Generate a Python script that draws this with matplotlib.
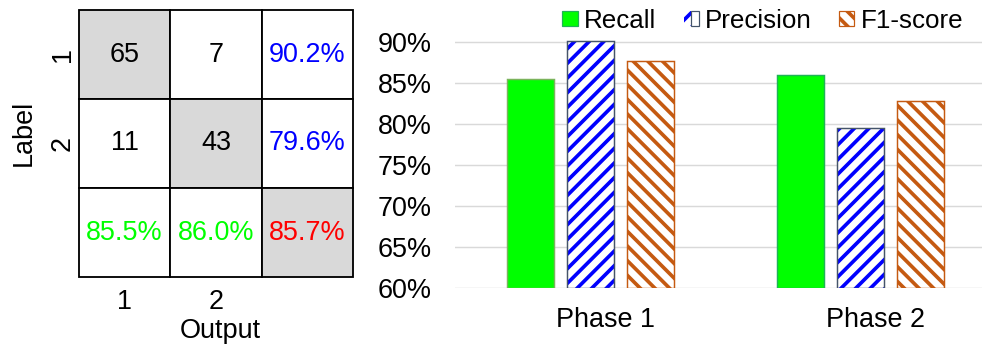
import matplotlib
matplotlib.use("Agg")
import matplotlib.pyplot as plt
import matplotlib.transforms as mtransforms
from matplotlib.patches import Rectangle, Patch
from matplotlib.legend_handler import HandlerTuple

# ---- data -------------------------------------------------------------
classes = ["1", "2"]
counts = [[65, 7],
          [11, 43]]
row_precision = [90.2, 79.6]      # per-label precision (right column)
col_recall = [85.5, 86.0]         # per-output recall (bottom row)
overall_acc = 85.7

phases = ["Phase 1", "Phase 2"]
recall = [85.5, 86.0]
precision = [90.2, 79.6]
f1_score = [87.7, 82.8]
y_ticks = [60, 65, 70, 75, 80, 85, 90]

# ---- figure setup -----------------------------------------------------
W, H, DPI = 983, 347, 88
plt.rcParams["font.family"] = ["Liberation Sans", "DejaVu Sans"]
plt.rcParams["hatch.linewidth"] = 3.0


def px(v):
    """pixels -> points"""
    return v * 72.0 / DPI


FS = px(27)
fig = plt.figure(figsize=(W / DPI, H / DPI), dpi=DPI)

# ---- confusion matrix -------------------------------------------------
ax1 = fig.add_axes([79 / W, 1 - 277 / H, (353 - 79) / W, (277 - 10) / H])
ax1.set_xlim(0, 3)
ax1.set_ylim(3, 0)
for s in ax1.spines.values():
    s.set_visible(False)

n = len(classes)
for i in range(n + 1):
    for j in range(n + 1):
        shade = "#D9D9D9" if i == j else "white"
        ax1.add_patch(Rectangle((j, i), 1, 1, facecolor=shade,
                                edgecolor="black", lw=1.5, clip_on=False))

for i in range(n):
    for j in range(n):
        ax1.text(j + 0.5, i + 0.5, str(counts[i][j]), ha="center",
                 va="center", fontsize=FS, color="black")
    ax1.text(n + 0.5, i + 0.5, f"{row_precision[i]:.1f}%", ha="center",
             va="center", fontsize=FS, color="#0000FF")
    ax1.text(i + 0.5, n + 0.5, f"{col_recall[i]:.1f}%", ha="center",
             va="center", fontsize=FS, color="#00FF00")
ax1.text(n + 0.5, n + 0.5, f"{overall_acc:.1f}%", ha="center",
         va="center", fontsize=FS, color="#FF0000")

ax1.set_xticks([k + 0.5 for k in range(n)], labels=classes)
ax1.set_yticks([k + 0.5 for k in range(n)], labels=classes)
ax1.tick_params(axis="x", length=0, pad=px(12), labelsize=FS)
ax1.tick_params(axis="y", length=0, pad=px(3), labelsize=FS, labelrotation=90)
for lbl in ax1.get_yticklabels():
    lbl.set_verticalalignment("center")
ax1.set_xlabel("Output", fontsize=FS, va="top")
ax1.xaxis.set_label_coords((220 - 79) / 274, (277 - 318) / 267)
ax1.set_ylabel("Label", fontsize=FS)
ax1.yaxis.set_label_coords((37 - 79) / 274, (277 - 133) / 267)

# ---- grouped bar chart ------------------------------------------------
ax2 = fig.add_axes([455 / W, 1 - 288.3 / H, (982 - 455) / W, (288.3 - 38.2) / H])
ax2.set_ylim(60, 90.5)
ax2.set_xlim(-0.5, 1 + 122 / 270)

x = list(range(len(phases)))
bw = 47 / 270
step = 60 / 270

green_edges = ["#7BB35C", "#1FB357"]
ax2.bar([v - step for v in x], [r - 60 for r in recall], bottom=60, width=bw,
        color="#00FF00", edgecolor=green_edges, lw=1.2, zorder=3)

ax2.bar(x, [p - 60 for p in precision], bottom=60, width=bw, color="white",
        edgecolor="#0000FF", hatch="//", lw=0, zorder=3)
ax2.bar(x, [p - 60 for p in precision], bottom=60, width=bw, fill=False,
        edgecolor="#44546A", lw=1.2, zorder=4)

ax2.bar([v + step for v in x], [f - 60 for f in f1_score], bottom=60, width=bw,
        color="white", edgecolor="#C55A11", hatch="\\\\", lw=1.2, zorder=3)

for s in ax2.spines.values():
    s.set_visible(False)
ax2.set_yticks(y_ticks, labels=[f"{t}%" for t in y_ticks])
ax2.yaxis.grid(True, color="#D9D9D9", lw=1.2, zorder=0)
ax2.set_axisbelow(True)
ax2.tick_params(axis="y", length=0, pad=px(23), labelsize=FS)
ax2.set_xticks(x, labels=phases)
ax2.tick_params(axis="x", length=0, pad=px(19), labelsize=FS)
shift = mtransforms.ScaledTranslation(15 / DPI, 0, fig.dpi_scale_trans)
for lbl in ax2.get_xticklabels():
    lbl.set_transform(lbl.get_transform() + shift)

handles = [
    Patch(facecolor="#00FF00", edgecolor="#1FB357", lw=1.0),
    (Patch(facecolor="white", edgecolor="#0000FF", hatch="//", lw=0),
     Patch(fill=False, edgecolor="#44546A", lw=1.0)),
    Patch(facecolor="white", edgecolor="#C55A11", hatch="\\\\", lw=1.0),
]
fig.legend(handles, ["Recall", "Precision", "F1-score"],
           handler_map={tuple: HandlerTuple(ndivide=None)},
           loc="center", bbox_to_anchor=(763 / W, 1 - 21 / H),
           ncol=3, frameon=False, fontsize=px(26), borderpad=0,
           handlelength=0.58, handleheight=0.5, handletextpad=0.25,
           columnspacing=1.05)

fig.savefig("out.png", dpi=DPI)
